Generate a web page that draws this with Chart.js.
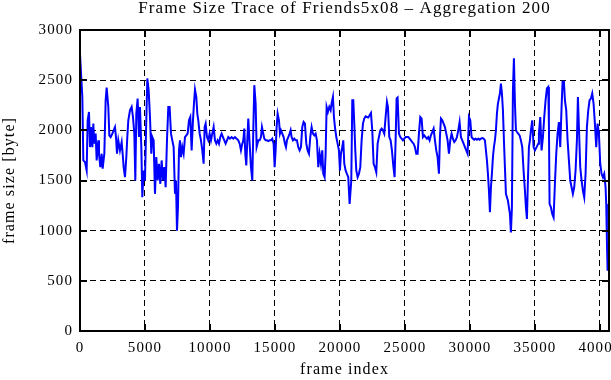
<!DOCTYPE html>
<html>
<head>
<meta charset="utf-8">
<title>Frame Size Trace</title>
<script src="https://cdn.jsdelivr.net/npm/chart.js@4.4.1/dist/chart.umd.min.js"></script>
<style>
	body { margin: 0; background: #fff; overflow: hidden; }
	#wrap { width: 611px; height: 380px; overflow: hidden; }
</style>
</head>
<body>
<div id="wrap"><canvas id="traceCanvas" width="630" height="380"></canvas></div>
<script>
// frame index / aggregated frame size
var frames = [
	0, 179, 256, 384, 512, 589, 692, 769, 846, 948, 1025, 1102, 1205, 1282, 1410, 1461, 1564, 1666, 1743, 1871,
	1974, 2051, 2179, 2256, 2358, 2487, 2589, 2692, 2769, 2846, 2948, 3076, 3205, 3282, 3358, 3461, 3564, 3640, 3717, 3846,
	3974, 4076, 4179, 4256, 4333, 4435, 4538, 4615, 4718, 4794, 4897, 5000, 5077, 5179, 5282, 5384, 5487, 5564, 5666, 5769,
	5871, 5974, 6076, 6179, 6281, 6384, 6487, 6589, 6692, 6794, 6897,
	7000, 7102, 7205, 7307, 7384, 7461, 7538, 7615, 7692, 7769, 7871, 7974, 8077, 8179, 8282, 8384, 8487, 8589, 8692, 8769,
	8846, 8948, 9025, 9102, 9205, 9307, 9410, 9512, 9589, 9666, 9769, 9871, 9974, 10077, 10179, 10282, 10384, 10487, 10589, 10692,
	10794, 10897, 11000, 11102, 11205, 11307, 11410, 11538, 11666, 11794, 11922, 12051, 12179, 12282, 12384, 12487, 12564, 12640, 12717, 12794,
	12871, 12948, 13051, 13154, 13256, 13333, 13410, 13512, 13589, 13718, 13820,
	13923, 14000, 14102, 14179, 14282, 14384, 14487, 14589, 14692, 14794, 14897, 14974, 15051, 15128, 15205, 15307, 15384, 15461, 15564, 15666,
	15769, 15846, 15923, 16025, 16128, 16205, 16282, 16384, 16487, 16589, 16692, 16794, 16897, 17000, 17102, 17205, 17307, 17410, 17512, 17615,
	17717, 17820, 17922, 18025, 18128, 18230, 18333, 18435, 18538, 18640, 18717, 18820, 18897, 18974, 19076, 19179, 19282, 19358, 19461, 19538,
	19615, 19718, 19820, 19922, 20000, 20076, 20179, 20256, 20333, 20435, 20538, 20640, 20743,
	20872, 20949, 21026, 21103, 21180, 21257, 21359, 21462, 21564, 21667, 21769, 21872, 21975, 22077, 22180, 22282, 22385, 22487, 22590, 22692,
	22795, 22898, 23000, 23103, 23205, 23308, 23410, 23513, 23616, 23692, 23795, 23898, 24000, 24103, 24205, 24282, 24359, 24436, 24539, 24641,
	24744, 24846, 24949, 25051, 25154, 25257, 25359, 25462, 25564, 25667, 25769, 25872, 25975, 26077, 26180, 26282, 26385, 26487, 26590, 26692,
	26795, 26898, 27000, 27103, 27205, 27308, 27410, 27513, 27616, 27692,
	27770, 27872, 27975, 28077, 28180, 28282, 28385, 28487, 28590, 28692, 28795, 28898, 29000, 29103, 29205, 29308, 29410, 29513, 29616, 29718,
	29821, 29923, 30026, 30128, 30231, 30334, 30436, 30539, 30641, 30744, 30846, 30949, 31051, 31154, 31231, 31308, 31385, 31462, 31539, 31616,
	31692, 31769, 31846, 31923, 32000, 32077, 32154, 32231, 32308, 32385, 32462, 32539, 32616, 32692, 32769, 32846, 32923, 33000, 33077, 33154,
	33231, 33308, 33385, 33462, 33539, 33616, 33718, 33821, 33923, 34026, 34128, 34231, 34308, 34385, 34462, 34539, 34616,
	34693, 34795, 34898, 35000, 35128, 35257, 35308, 35410, 35513, 35616, 35718, 35821, 35923, 36026, 36077, 36128, 36231, 36334, 36436, 36539,
	36641, 36744, 36846, 36949, 37051, 37128, 37231, 37308, 37410, 37513, 37616, 37718, 37821, 37923, 38026, 38128, 38231, 38308, 38385, 38487,
	38590, 38692, 38795, 38898, 39000, 39103, 39205, 39308, 39410, 39513, 39616, 39718, 39821, 39923, 40026, 40128, 40231, 40334, 40436, 40487,
	40539, 40590
];
var sizes = [
	2760, 2333, 1700, 1683, 1600, 2100, 2183, 1833, 2033, 1833, 2067, 1867, 1967, 1700, 1900, 1767, 1633, 1767, 1617, 1767,
	2300, 2427, 2233, 1950, 1933, 1967, 2000, 2033, 1933, 1767, 1900, 1800, 1883, 1767, 1633, 1533, 1733, 1933, 2100, 2200,
	2233, 2133, 1967, 1500, 2167, 2317, 1933, 2233, 1833, 1333, 1600, 1500, 1967, 2517, 2400, 2133, 1767, 1933, 1900, 1367,
	1733, 1500, 1667, 1467, 1700, 1500, 1633, 1433, 1900, 2233, 2233,
	1967, 1900, 1833, 1367, 1500, 1000, 1233, 1800, 1900, 1733, 1833, 1767, 1933, 1950, 1967, 2100, 2133, 1800, 2100, 2267,
	2407, 2333, 2167, 2100, 1967, 1900, 1800, 1667, 2033, 2067, 1933, 1900, 1967, 1900, 1967, 2033, 1900, 1867, 1900, 1867,
	1933, 1967, 1933, 1900, 1867, 1900, 1933, 1917, 1933, 1917, 1933, 1917, 1900, 1867, 1800, 1867, 1900, 2017, 1767, 1650,
	1900, 2117, 1867, 1633, 1500, 2000, 2450, 2267, 1833, 1900, 1900,
	1933, 2033, 1967, 1917, 1900, 1900, 1893, 1900, 1900, 1917, 1867, 1633, 1800, 2033, 2167, 2100, 1967, 2000, 1967, 1933,
	1867, 1833, 1900, 1933, 1967, 2000, 1933, 1900, 1917, 1900, 1900, 1833, 1800, 1833, 2033, 2083, 2067, 1867, 1800, 1767,
	1933, 2033, 1967, 1950, 1967, 1900, 1633, 1767, 1667, 1800, 1567, 1533, 1767, 2233, 2183, 2233, 2200, 2267, 2333, 2133,
	2033, 1933, 1867, 1800, 1600, 1767, 1833, 1900, 1667, 1600, 1567, 1533, 1267,
	1500, 2300, 2300, 2067, 1800, 1600, 1533, 1567, 1633, 1900, 2067, 2117, 2140, 2133, 2127, 2150, 2173, 2000, 1667, 1633,
	1583, 1867, 1933, 2000, 2017, 2000, 1967, 2133, 2283, 2233, 1933, 1900, 1800, 1650, 1533, 1900, 2317, 2327, 1967, 1933,
	1917, 1900, 1917, 1933, 1933, 1933, 1917, 1900, 1883, 1867, 1833, 1767, 1767, 1967, 2133, 2117, 1933, 1950, 1933, 1917,
	1933, 1900, 1950, 1983, 2017, 1900, 1800, 1733, 1567, 1933,
	2117, 2100, 2067, 2033, 1967, 1900, 1767, 1900, 1967, 1917, 1883, 1900, 1933, 2000, 2083, 1933, 1900, 1867, 1833, 1800,
	1767, 2133, 2100, 1933, 1917, 1907, 1917, 1907, 1917, 1907, 1917, 1923, 1917, 1900, 1800, 1700, 1567, 1400, 1183, 1433,
	1567, 1733, 1833, 1900, 2000, 2167, 2267, 2317, 2367, 2467, 2367, 2200, 1900, 1633, 1367, 1333, 1300, 1233, 1167, 983,
	1233, 2400, 2717, 2267, 2000, 1983, 1967, 1950, 1900, 1833, 1600, 1400, 1233, 1117, 1500, 1833, 1900,
	2000, 2100, 1833, 1800, 1833, 1867, 1967, 2133, 1800, 1933, 2133, 2300, 2417, 2433, 2067, 1267, 1233, 1167, 1133, 1467,
	1767, 1967, 2083, 1833, 2233, 2483, 2483, 2300, 2200, 1900, 1700, 1500, 1433, 1367, 1433, 1600, 1900, 2333, 2033, 1633,
	1500, 1400, 1333, 1567, 2033, 2200, 2300, 2317, 2367, 2267, 2067, 1833, 2067, 1967, 1667, 1567, 1533, 1567, 1433, 1267,
	900, 600
];
var xTicks = [0, 5000, 10000, 15000, 20000, 25000, 30000, 35000, 40000];
var yTicks = [0, 500, 1000, 1500, 2000, 2500, 3000];

var serif = "'Liberation Serif', 'DejaVu Serif', serif";

// the reference text is set a little loose, widen it a bit
var spacingPlugin = {
	id: 'looseText',
	beforeLayout: function (chart) { chart.ctx.letterSpacing = '1.1px'; },
	beforeDraw: function (chart) { chart.ctx.letterSpacing = '1.1px'; }
};

// gnuplot style frame with inward ticks on all four sides
var framePlugin = {
	id: 'frameBox',
	afterDraw: function (chart) {
		var ctx = chart.ctx;
		var a = chart.chartArea;
		var xs = chart.scales.x;
		var ys = chart.scales.y;
		var len = 7;
		ctx.save();
		ctx.strokeStyle = '#000';
		ctx.lineWidth = 2;
		ctx.setLineDash([]);
		ctx.strokeRect(a.left, a.top, a.right - a.left, a.bottom - a.top);
		ctx.beginPath();
		xTicks.forEach(function (v) {
			var px = Math.round(xs.getPixelForValue(v));
			ctx.moveTo(px, a.bottom); ctx.lineTo(px, a.bottom - len);
			ctx.moveTo(px, a.top); ctx.lineTo(px, a.top + len);
		});
		yTicks.forEach(function (v) {
			var py = Math.round(ys.getPixelForValue(v));
			ctx.moveTo(a.left, py); ctx.lineTo(a.left + len, py);
			ctx.moveTo(a.right, py); ctx.lineTo(a.right - len, py);
		});
		ctx.stroke();
		ctx.restore();
	}
};

var points = [];
for (var i = 0; i < frames.length; i++) {
	points.push({ x: frames[i], y: sizes[i] });
}

new Chart(document.getElementById('traceCanvas'), {
	type: 'line',
	data: {
		datasets: [{
			data: points,
			borderColor: '#0000ff',
			borderWidth: 2,
			pointRadius: 0,
			tension: 0,
			fill: false
		}]
	},
	options: {
		responsive: false,
		animation: false,
		devicePixelRatio: 1,
		layout: { padding: { left: 0, right: 21, top: 0, bottom: 0 } },
		plugins: {
			legend: { display: false },
			tooltip: { enabled: false },
			title: {
				display: true,
				fullSize: false,
				text: 'Frame Size Trace of Friends5x08 \u2013 Aggregation 200',
				color: '#000',
				font: { family: serif, size: 17, weight: 'normal', lineHeight: 1 },
				padding: { top: 0, bottom: 13 }
			}
		},
		scales: {
			x: {
				type: 'linear',
				min: 0,
				max: 40700,
				afterFit: function (s) { s.height = 49; },
				afterBuildTicks: function (s) {
					s.ticks = xTicks.map(function (v) { return { value: v }; });
				},
				ticks: {
					color: '#000',
					font: { family: serif, size: 15 },
					padding: 8,
					maxRotation: 0,
					autoSkip: false,
					callback: function (v) { return String(v); }
				},
				grid: { color: '#000', lineWidth: 1, drawTicks: false },
				border: { display: false, dash: [6, 4] },
				title: {
					display: true,
					text: 'frame index',
					color: '#000',
					font: { family: serif, size: 16 },
					padding: { top: 0, bottom: 1 }
				}
			},
			y: {
				min: 0,
				max: 3000,
				afterFit: function (s) { s.width = 80; },
				afterBuildTicks: function (s) {
					s.ticks = yTicks.map(function (v) { return { value: v }; });
				},
				ticks: {
					color: '#000',
					font: { family: serif, size: 15 },
					padding: 7,
					callback: function (v) { return String(v); }
				},
				grid: { color: '#000', lineWidth: 1, drawTicks: false },
				border: { display: false, dash: [6, 4] },
				title: {
					display: true,
					text: 'frame size [byte]',
					color: '#000',
					font: { family: serif, size: 16 },
					padding: { top: 0, bottom: 0 }
				}
			}
		}
	},
	plugins: [spacingPlugin, framePlugin]
});
</script>
</body>
</html>
